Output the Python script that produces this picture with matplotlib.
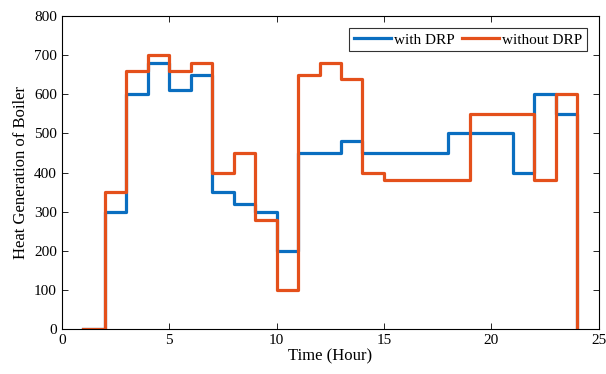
import matplotlib
matplotlib.use("Agg")
import matplotlib.pyplot as plt

hours = list(range(1, 25))
with_drp = [0, 300, 600, 680, 610, 650, 350, 320, 300, 200, 450, 450, 480, 450, 450, 450, 450, 500, 500, 500, 400, 600, 550, 0]
without_drp = [0, 350, 660, 700, 660, 680, 400, 450, 280, 100, 650, 680, 640, 400, 380, 380, 380, 380, 550, 550, 550, 380, 600, 0]

plt.rcParams['font.family'] = ['Liberation Serif', 'DejaVu Serif']

fig = plt.figure(figsize=(6.06, 3.74), dpi=100)
ax = fig.add_axes([0.102, 0.120, 0.886, 0.837])
ax.step(hours, with_drp, where='post', color='#0A6EC0', lw=2.3, label='with DRP')
ax.step(hours, without_drp, where='post', color='#E4501B', lw=2.3, label='without DRP')

ax.set_xlim(0, 25)
ax.set_ylim(0, 800)
ax.set_xticks(range(0, 26, 5))
ax.set_yticks(range(0, 801, 100))
ax.tick_params(direction='in', top=True, right=True, labelsize=11, length=4, width=0.6)
for s in ax.spines.values():
    s.set_linewidth(0.8)
ax.set_xlabel('Time (Hour)', fontsize=12, labelpad=1)
ax.set_ylabel('Heat Generation of Boiler', fontsize=12, labelpad=4)
leg = ax.legend(loc='upper right', ncol=2, fontsize=11, frameon=True, fancybox=False,
                edgecolor='black', handlelength=2.4, columnspacing=0.5, handletextpad=0.2,
                borderpad=0.3, borderaxespad=0.8)
leg.get_frame().set_linewidth(0.8)
fig.savefig('out.png', dpi=100)
